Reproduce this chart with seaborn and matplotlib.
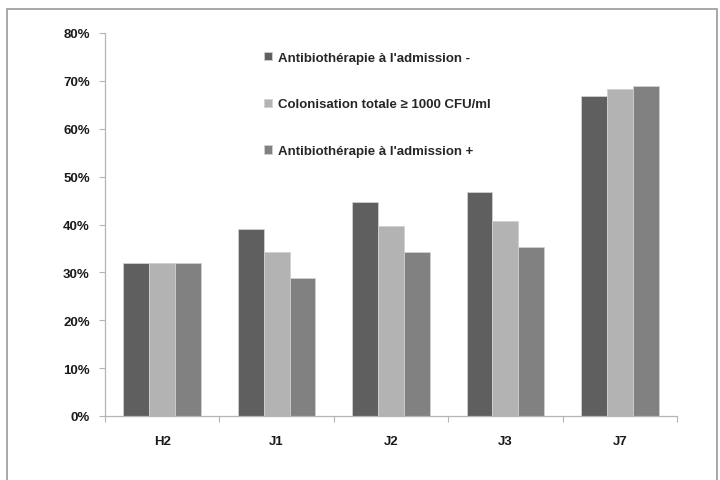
import matplotlib
matplotlib.use("Agg")
import matplotlib.pyplot as plt
import seaborn as sns
import pandas as pd
from matplotlib.patches import Rectangle
from matplotlib.ticker import FuncFormatter, FixedLocator

categories = ["H2", "J1", "J2", "J3", "J7"]
series_names = ["Antibiothérapie à l'admission -",
                "Colonisation totale ≥ 1000 CFU/ml",
                "Antibiothérapie à l'admission +"]
abx_minus = [32.0, 39.1, 44.6, 46.7, 66.8]
colonisation = [32.0, 34.3, 39.7, 40.8, 68.3]
abx_plus = [32.0, 28.9, 34.2, 35.4, 69.0]
yticks = [0, 10, 20, 30, 40, 50, 60, 70, 80]
colors = ["#5f5f5f", "#b3b3b3", "#818181"]

rows = []
for name, vals in zip(series_names, [abx_minus, colonisation, abx_plus]):
    for c, v in zip(categories, vals):
        rows.append({"cat": c, "serie": name, "val": v})
df = pd.DataFrame(rows)

sns.set_theme(style="white")
fam = ["Liberation Sans", "DejaVu Sans"]
plt.rcParams["font.family"] = fam

fig = plt.figure(figsize=(7.2, 4.81), dpi=100)
ax = fig.add_axes([105/720, 1-417/481, (677-105)/720, (417-34)/481])

sns.barplot(data=df, x="cat", y="val", hue="serie", order=categories,
            hue_order=series_names, palette=colors, width=0.68,
            edgecolor="#d0d0d0", linewidth=0.6, ax=ax, legend=True)

ax.set_ylim(0, 80)
ax.set_xlim(-0.5, 4.5)
ax.yaxis.set_major_locator(FixedLocator(yticks))
ax.yaxis.set_major_formatter(FuncFormatter(lambda v, p: f"{int(v)}%"))
ax.set_xlabel("")
ax.set_ylabel("")
for s in ["top", "right"]:
    ax.spines[s].set_visible(False)
for s in ["left", "bottom"]:
    ax.spines[s].set_color("#b5b5b5")
    ax.spines[s].set_linewidth(0.9)

ax.tick_params(axis="y", which="major", direction="out", length=4, width=0.8,
               color="#b5b5b5", left=True, pad=7, labelsize=9.5)
ax.tick_params(axis="x", which="major", length=0, pad=14, labelsize=9.5)
ax.set_xticks([i - 0.5 for i in range(6)], minor=True)
ax.tick_params(axis="x", which="minor", direction="out", length=4, width=0.8,
               color="#b5b5b5", bottom=True)
for lab in ax.get_yticklabels() + ax.get_xticklabels():
    lab.set_fontweight("bold")
    lab.set_color("#1a1a1a")

handles, labels = ax.get_legend_handles_labels()
ax.legend(handles, labels, loc="upper left",
          bbox_to_anchor=(252/720, 1-41/481), bbox_transform=fig.transFigure,
          frameon=False, labelspacing=2.62, handlelength=0.6, handleheight=0.6,
          handletextpad=0.5,
          prop={"family": fam, "weight": "bold", "size": 9.5})

# outer frame
fig.patches.append(Rectangle((7/720, -0.05), (717-7)/720, 1.05 - 10/481,
                             transform=fig.transFigure, fill=False,
                             edgecolor="#9a9a9a", linewidth=1.2))

fig.savefig("out.png", dpi=100)
